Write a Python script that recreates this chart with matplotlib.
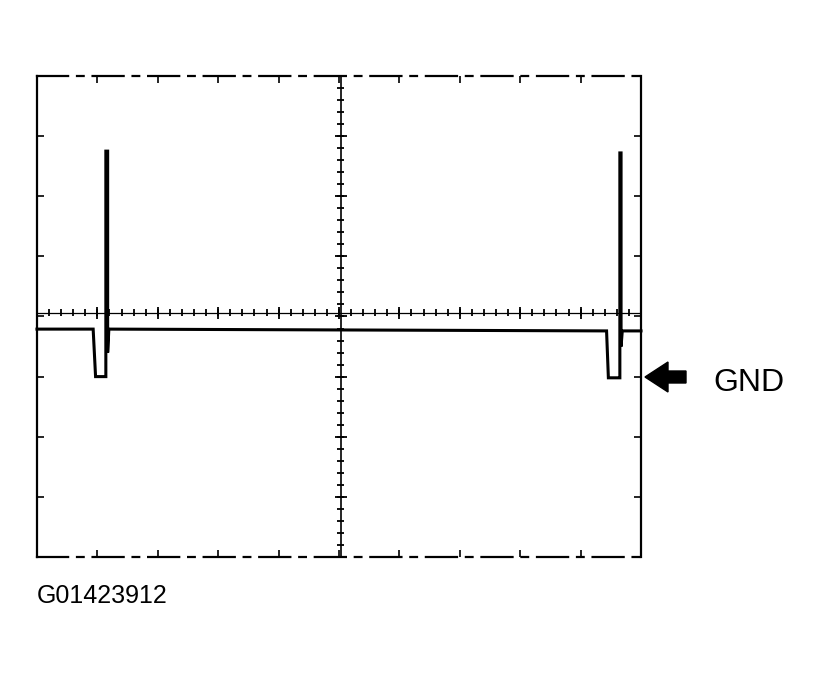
import numpy as np
import matplotlib
matplotlib.use("Agg")
import matplotlib.pyplot as plt
from matplotlib.patches import Polygon

# scope screen in divisions: 10 across, 8 high, centre at (5, 0)
DIV_X = list(range(0, 11))
DIV_Y = list(range(-4, 5))

# captured trace (x in div, y in div)
trace_x = [0.0, 0.93, 0.97, 1.13, 1.14, 1.14, 1.17, 1.17, 1.19,
           9.43, 9.46, 9.64, 9.65, 9.65, 9.67, 9.67, 9.69, 10.0]
trace_y = [-0.21, -0.21, -1.0, -1.0, -1.0, 2.75, 2.75, -0.6, -0.21,
           -0.24, -1.02, -1.02, -1.02, 2.72, 2.72, -0.5, -0.24, -0.24]

figure_id = "G01423912"

fig = plt.figure(figsize=(8.2, 6.79), dpi=100, facecolor="white")
ax = fig.add_axes([0.0451, 0.1797, 0.7366, 0.7084])
ax.set_xlim(0, 10)
ax.set_ylim(-4, 4)

ax.set_xticks(DIV_X)
ax.set_yticks(DIV_Y)
ax.set_xticklabels([])
ax.set_yticklabels([])
ax.tick_params(direction="in", length=5, width=1.2, color="black",
               top=True, right=True)
for side, sp in ax.spines.items():
    sp.set_color("black")
    sp.set_linewidth(1.6)
    if side in ("top", "bottom"):
        sp.set_linestyle((0, (14, 4, 3, 4)))

# centre graticule with fine marks every 0.2 div
cx, cy = 5.03, 0.06
ax.axhline(cy, color="black", lw=0.9)
ax.axvline(cx, color="black", lw=1.2)
fine = np.arange(0, 10.01, 0.2)
ax.vlines(fine, cy - 0.06, cy + 0.06, color="black", lw=1.3)
ax.vlines(DIV_X, cy - 0.1, cy + 0.1, color="black", lw=1.3)
fine_y = np.arange(-4, 4.01, 0.2)
ax.hlines(fine_y, cx - 0.06, cx + 0.06, color="black", lw=1.3)
ax.hlines(DIV_Y, cx - 0.1, cx + 0.1, color="black", lw=1.3)

ax.plot(trace_x, trace_y, color="black", lw=2.2, solid_joinstyle="miter",
        clip_on=False)

# GND arrow (figure pixel coords)
W, H = 820, 679
arrow_px = [(645, 377), (668, 362), (668, 371), (686, 371),
            (686, 383), (668, 383), (668, 392)]
fig.patches.append(Polygon([(x / W, 1 - y / H) for x, y in arrow_px],
                           closed=True, facecolor="black", edgecolor="black",
                           transform=fig.transFigure, figure=fig))
fig.text(713 / W, 1 - 391 / H, "GND", fontsize=23, family="Liberation Sans",
         ha="left", va="baseline", color="black")
fig.text(37 / W, 1 - 603 / H, figure_id, fontsize=18, family="Liberation Sans",
         ha="left", va="baseline", color="black")

fig.savefig("out.png", dpi=100, facecolor="white")
